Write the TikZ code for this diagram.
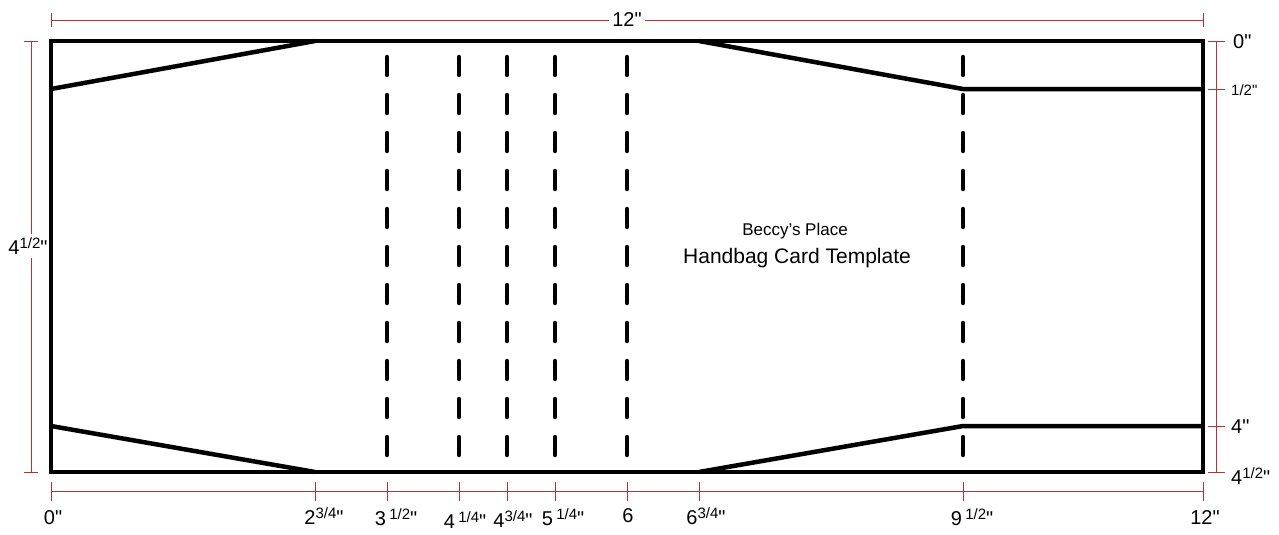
\documentclass[tikz,border=0pt]{standalone}
\usepackage{fontspec}
\setmainfont{Liberation Sans}
\newfontfamily\plainf{Liberation Sans}
\definecolor{dimred}{RGB}{185,50,50}
\newcommand{\qq}{{\plainf"}}
\newcommand{\fr}[2]{#1\raisebox{6pt}{\fontsize{15}{15}\selectfont #2}\qq}
\begin{document}
\begin{tikzpicture}[x=1pt,y=-1pt,
  cut/.style={line width=4.5pt,line cap=butt},
  fold/.style={line width=4.5pt,line cap=round,dash pattern=on 18pt off 20pt},
  dim/.style={dimred,line width=0.9pt},
  lab/.style={font=\fontsize{20}{20}\selectfont,inner sep=0pt}]
\useasboundingbox (0,0) rectangle (1279,535);
% outline
\draw[cut] (51,41) rectangle (1203,472);
\draw[cut] (51,89) -- (315,41);
\draw[cut] (51,426) -- (315,472);
\draw[cut] (699,41) -- (963,89) -- (1203,89);
\draw[cut] (699,472) -- (963,426) -- (1203,426);
\foreach \x in {387,459,507,555,627,963}
  \draw[fold] (\x,57) -- (\x,462);
% text
\node[font=\fontsize{17}{17}\selectfont] (t1) at (795,231) {Beccy's Place};
\node[font=\fontsize{21}{21}\selectfont] (t2) at (797,258) {Handbag Card Template};
% top dim
\draw[dim] (51,20) -- (1203,20);
\draw[dim] (51,13) -- (51,27); \draw[dim] (1203,13) -- (1203,27);
\node[lab,fill=white,inner xsep=3pt] (top) at (627,20) {12\qq};
% left dim
\draw[dim] (31,41) -- (31,472);
\draw[dim] (24,41) -- (38,41); \draw[dim] (24,472) -- (38,472);
\node[lab,fill=white,inner ysep=4pt] (left) at (28,246) {\fr{4}{1/2}};
% right dim
\draw[dim] (1216,41) -- (1216,472);
\foreach \y in {41,89,426,472} \draw[dim] (1208,\y) -- (1225,\y);
\node[lab,anchor=west] (r0) at (1233,42) {0\qq};
\node[lab,anchor=west,font=\fontsize{15}{15}\selectfont] (r1) at (1231,90) {1/2\qq};
\node[lab,anchor=west] (r2) at (1231,427) {4\qq};
\node[lab,anchor=west] (r3) at (1231,476) {\fr{4}{1/2}};
% bottom dim
\draw[dim] (51,491) -- (1203,491);
\foreach \x in {51,315,387,459,507,555,627,699,963,1203} \draw[dim] (\x,482) -- (\x,501);
\node[lab] (b0) at (53,518) {0\qq};
\node[lab] (b1) at (324,516) {\fr{2}{3/4}};
\node[lab] (b2) at (396,517) {\fr{3\,}{1/2}};
\node[lab] (b3) at (465,520) {\fr{4\,}{1/4}};
\node[lab] (b4) at (513,519) {\fr{4}{3/4}};
\node[lab] (b5) at (563,517) {\fr{5\,}{1/4}};
\node[lab] (b6) at (628,516) {6};
\node[lab] (b7) at (706,516) {\fr{6}{3/4}};
\node[lab] (b8) at (972,517) {\fr{9\,}{1/2}};
\node[lab] (b9) at (1205,518) {12\qq};
\end{tikzpicture}
\end{document}
